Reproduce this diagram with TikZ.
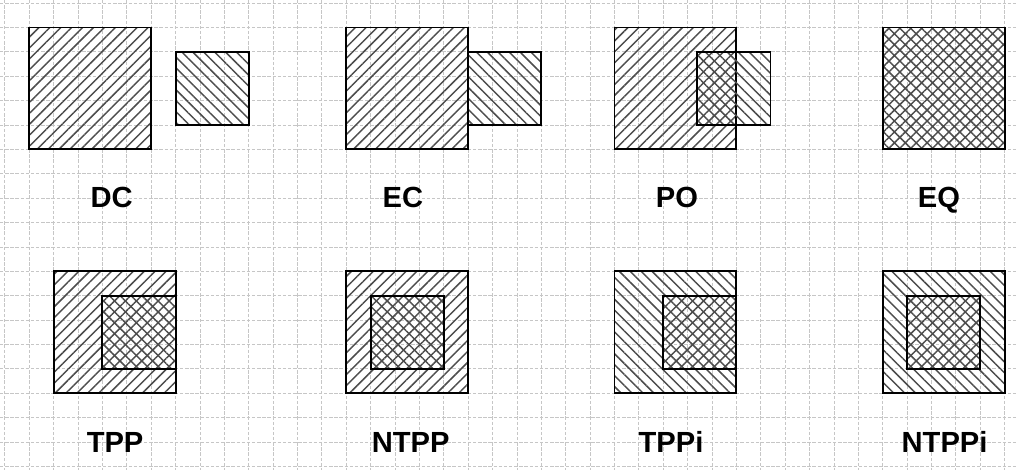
\documentclass[tikz,border=0pt]{standalone}
\usepackage{fontspec}
\setmainfont{Liberation Sans}
\usetikzlibrary{patterns.meta}

\begin{document}
\begin{tikzpicture}[scale=0.5,
    gridline/.style={gray!45, line width=0.45pt, dash pattern=on 2pt off 1pt},
    ne/.style={draw=black, line width=1.1pt, pattern={Lines[angle=45, distance=4.5pt, line width=0.85pt]}, pattern color=black!70},
    nw/.style={draw=black, line width=1.1pt, pattern={Lines[angle=-45, distance=4.5pt, line width=0.85pt]}, pattern color=black!70},
    both/.style={draw=black, line width=1.1pt, pattern={Hatch[angle=45, distance=4.5pt, line width=0.85pt]}, pattern color=black!70},
    lbl/.style={anchor=base, inner sep=0pt, font=\fontsize{17}{20}\selectfont\bfseries}]
  \useasboundingbox (-1.2,1.128) rectangle (40.51,-18.15);
  % grid paper
  \foreach \i in {-1,...,40} \draw[gridline] (\i,1.128) -- (\i,-18.15);
  \foreach \j in {-18,...,1} \draw[gridline] (-1.2,\j) -- (40.51,\j);

  % top row
  \draw[ne] (0,0) rectangle (5,-5);
  \draw[nw] (6,-1) rectangle (9,-4);
  \draw[ne] (13,0) rectangle (18,-5);
  \draw[nw] (18,-1) rectangle (21,-4);
  \draw[ne] (24,0) rectangle (29,-5);
  \draw[nw] (27.4,-1) rectangle (30.4,-4);
  \draw[both] (35,0) rectangle (40,-5);

  % bottom row
  \draw[ne] (1,-10) rectangle (6,-15);
  \draw[nw] (3,-11) rectangle (6,-14);
  \draw[ne] (13,-10) rectangle (18,-15);
  \draw[nw] (14,-11) rectangle (17,-14);
  \draw[nw] (24,-10) rectangle (29,-15);
  \draw[ne] (26,-11) rectangle (29,-14);
  \draw[nw] (35,-10) rectangle (40,-15);
  \draw[ne] (36,-11) rectangle (39,-14);

  \node[lbl] (DC) at (3.38,-7.4) {DC};
  \node[lbl] (EC) at (15.32,-7.4) {EC};
  \node[lbl] (PO) at (26.56,-7.4) {PO};
  \node[lbl] (EQ) at (37.31,-7.4) {EQ};
  \node[lbl] (TPP) at (3.52,-17.45) {TPP};
  \node[lbl] (NTPP) at (15.64,-17.45) {NTPP};
  \node[lbl] (TPPi) at (26.32,-17.45) {TPPi};
  \node[lbl] (NTPPi) at (37.54,-17.45) {NTPPi};
\end{tikzpicture}
\end{document}
